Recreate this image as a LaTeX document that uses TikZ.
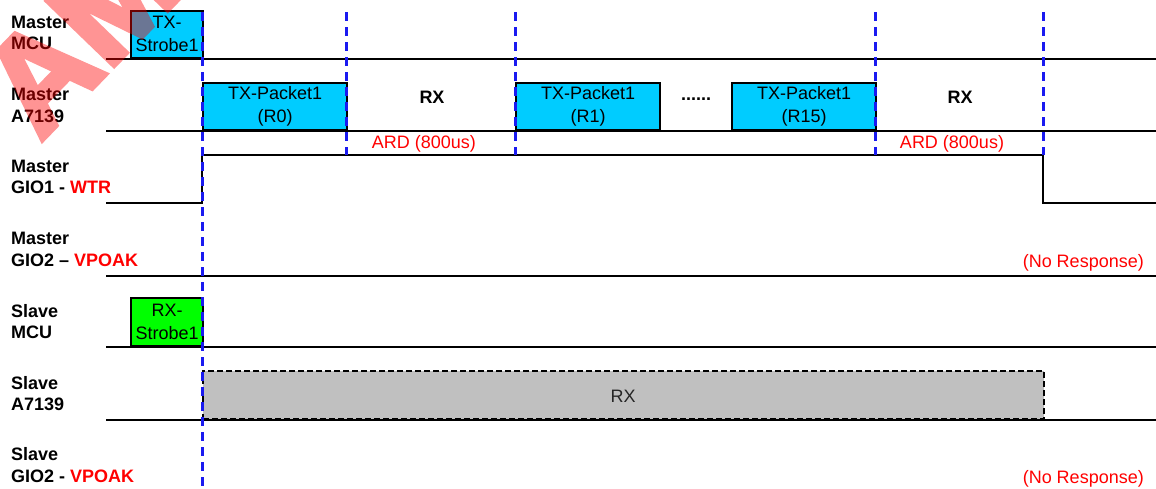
\documentclass[tikz,border=0pt]{standalone}
\usepackage{fontspec}
\setmainfont{Liberation Sans}
\newfontfamily\wmfont[FakeBold=4]{Liberation Sans Bold}
\definecolor{txcyan}{HTML}{00CCFF}
\definecolor{rxgreen}{HTML}{00FF00}
\definecolor{rxgray}{HTML}{C0C0C0}
\definecolor{guideblue}{HTML}{1A1AF0}
\begin{document}
\begin{tikzpicture}[x=1pt,y=-1pt,
  lab/.style={anchor=west,align=left,inner sep=0pt,font=\fontsize{18}{21.5}\selectfont\bfseries},
  sig/.style={line width=2.6pt},
  box/.style={draw=black,line width=2.3pt,anchor=south west,inner sep=0pt,align=center,font=\fontsize{18}{23}\selectfont},
  guide/.style={guideblue,line width=3pt,dash pattern=on 9pt off 6pt},
  txt/.style={font=\fontsize{18}{21.5}\selectfont,inner sep=0pt},
  redtxt/.style={txt,text=red},
]
\useasboundingbox (0,0) rectangle (1156,488);

% labels
\node[lab] (lMM) at (11,33) {Master\\MCU};
\node[lab] (lMA) at (11,105.5) {Master\\A7139};
\node[lab] (lMG1) at (11,177) {Master\\GIO1 - \textcolor{red}{WTR}};
\node[lab] (lMG2) at (11,249.5) {Master\\GIO2 – \textcolor{red}{VPOAK}};
\node[lab] (lSM) at (11,321.5) {Slave\\MCU};
\node[lab] (lSA) at (11,393.5) {Slave\\A7139};
\node[lab] (lSG) at (11,465) {Slave\\GIO2 - \textcolor{red}{VPOAK}};

% signal base lines
\draw[sig] (106,59) -- (1156,59);
\draw[sig] (106,131) -- (1156,131);
\draw[sig] (106,203) -- (202,203) -- (202,155) -- (1043,155) -- (1043,203) -- (1156,203);
\draw[sig] (106,276) -- (1156,276);
\draw[sig] (106,347) -- (1156,347);
\draw[sig] (106,420) -- (1156,420);

% boxes
\node[box,fill=txcyan,minimum width=72pt,minimum height=47pt] (txs) at (130,59) {TX-\\Strobe1};
\node[box,fill=txcyan,minimum width=144pt,minimum height=47pt] (p0) at (202,131) {TX-Packet1\\(R0)};
\node[box,fill=txcyan,minimum width=144pt,minimum height=47pt] (p1) at (515,131) {TX-Packet1\\(R1)};
\node[box,fill=txcyan,minimum width=144pt,minimum height=47pt] (p15) at (731,131) {TX-Packet1\\(R15)};
\node[box,fill=rxgreen,minimum width=72pt,minimum height=48pt] (rxs) at (130,347) {RX-\\Strobe1};
\node[box,fill=rxgray,dash pattern=on 6pt off 3pt,line width=2pt,minimum width=841pt,minimum height=48pt] (srx) at (202,420) {};
\node[txt,text=black!85] (srxt) at (623,396) {RX};

% texts
\node[txt,font=\fontsize{18}{21.5}\selectfont\bfseries] (rx1) at (432,97) {RX};
\node[txt,font=\fontsize{18}{21.5}\selectfont\bfseries] (rx2) at (960,97) {RX};
\node[txt,font=\fontsize{18}{21.5}\selectfont\bfseries] (dots) at (696,99) {......};
\node[redtxt] (ard1) at (424,144) {ARD (800us)};
\node[redtxt] (ard2) at (952,144) {ARD (800us)};
\node[redtxt,anchor=east] (nr1) at (1144,263) {(No Response)};
\node[redtxt,anchor=east] (nr2) at (1144,479) {(No Response)};

% guides
\draw[guide] (202,12) -- (202,488);
\draw[guide] (346,12) -- (346,155);
\draw[guide] (515,12) -- (515,155);
\draw[guide] (875,12) -- (875,155);
\draw[guide] (1043,12) -- (1043,155);

% watermark
\begin{scope}[transparency group,opacity=0.42,shift={(40,142)}]
\node[rotate=46,anchor=base west,text=red,inner sep=0pt,font=\wmfont\fontsize{135}{135}\selectfont] (wm) at (0,0) {AM};
\end{scope}
\end{tikzpicture}
\end{document}
